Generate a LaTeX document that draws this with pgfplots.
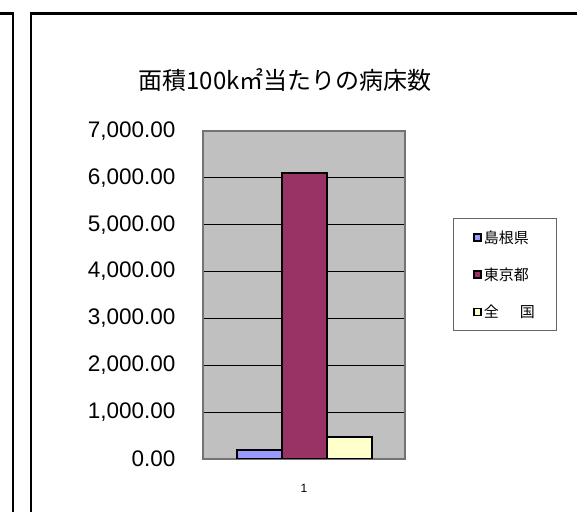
\documentclass[border=0pt]{standalone}
\usepackage{fontspec}
\setmainfont{Liberation Sans}
\newfontfamily\cjk{Noto Sans CJK JP}
\usepackage{pgfplots}
\pgfplotsset{compat=1.18}
\definecolor{plotbg}{HTML}{C0C0C0}
\definecolor{cShimane}{HTML}{9999FF}
\definecolor{cTokyo}{HTML}{993366}
\definecolor{cZenkoku}{HTML}{FFFFCC}
\pgfplotsset{sqlegend/.style={legend image code/.code={\draw[##1,draw=black,line width=1.4bp] (0bp,-3.5bp) rectangle (7bp,3.5bp);}}}
\begin{document}
\begin{tikzpicture}[x=1bp,y=1bp]
\path[use as bounding box] (0,0) rectangle (577,512);
\draw[line width=2.6bp] (-5,498.5) -- (13,498.5) -- (13,-5);
\draw[line width=2.6bp] (31,-5) -- (31,498.5) -- (585,498.5);
\node[font=\cjk\fontsize{24bp}{28bp}\selectfont] at (285,432) {面積100k㎡当たりの病床数};
\begin{axis}[
  at={(203bp,53bp)}, anchor=south west,
  scale only axis, width=202bp, height=328bp,
  ybar=0pt, bar width=45bp,
  xmin=0.5, xmax=1.5, ymin=0, ymax=7000,
  xtick={1}, ytick={0,1000,...,7000},
  major tick length=0pt,
  ymajorgrids, grid style={black, line width=0.8bp},
  axis background/.style={fill=plotbg},
  axis line style={draw=black!55, line width=1.3bp},
  /pgf/number format/assume math mode=true,
  yticklabel={\pgfmathprintnumber[fixed,fixed zerofill,precision=2,1000 sep={,}]{\tick}},
  yticklabel style={font=\fontsize{22.5bp}{27bp}\selectfont, anchor=east, xshift=-24bp},
  xticklabel style={font=\fontsize{12bp}{14bp}\selectfont, yshift=-22bp},
  legend style={at={(1.2376,0.7347)}, anchor=north west, draw=black!60, line width=0.8bp,
    fill=white, font=\cjk\fontsize{15bp}{18bp}\selectfont, row sep=19bp,
    inner xsep=20bp, inner ysep=10bp},
  legend cell align=left,
]
\addplot[fill=cShimane, draw=black, line width=2bp, sqlegend] coordinates {(1,200)};
\addplot[fill=cTokyo, draw=black, line width=2bp, sqlegend] coordinates {(1,6100)};
\addplot[fill=cZenkoku, draw=black, line width=2bp, sqlegend] coordinates {(1,475)};
\legend{島根県,東京都,全　\hspace{0.4em}国}
\end{axis}
\end{tikzpicture}
\end{document}
